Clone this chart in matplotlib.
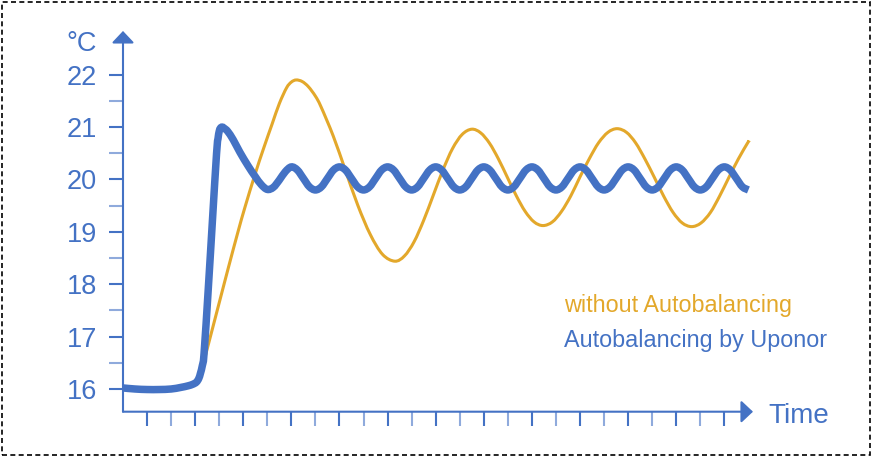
import numpy as np
import matplotlib
matplotlib.use("Agg")
import matplotlib.pyplot as plt
from matplotlib.patches import Rectangle, PathPatch
from matplotlib.path import Path

plt.rcParams["font.family"] = ["Liberation Sans", "DejaVu Sans"]

BLUE = "#4472c4"
LIGHT_BLUE = "#8faadc"
GOLD = "#e3a82b"

# axis ticks
y_major = [16, 17, 18, 19, 20, 21, 22]
y_minor = [16.5, 17.5, 18.5, 19.5, 20.5, 21.5]
x_major = [1, 3, 5, 7, 9, 11, 13, 15, 17, 19, 21, 23, 25]
x_minor = [2, 4, 6, 8, 10, 12, 14, 16, 18, 20, 22, 24]

# with Autobalancing by Uponor
blue_x = [0, 0.5, 1.0, 1.5, 2.0, 2.4, 2.7, 2.9, 3.05, 3.15, 3.22, 3.3, 3.37,
          3.55, 3.72, 3.89, 3.95, 4.0, 4.05, 4.12, 4.2, 4.35, 4.58, 4.86,
          5.2, 5.49, 5.75, 6.0, 6.25, 6.5, 6.75,
          7.0, 7.25, 7.5, 7.75, 8.0, 8.25, 8.5, 8.75,
          9.0, 9.25, 9.5, 9.75, 10.0, 10.25, 10.5, 10.75,
          11.0, 11.25, 11.5, 11.75, 12.0, 12.25, 12.5, 12.75,
          13.0, 13.25, 13.5, 13.75, 14.0, 14.25, 14.5, 14.75,
          15.0, 15.25, 15.5, 15.75, 16.0, 16.25, 16.5, 16.75,
          17.0, 17.25, 17.5, 17.75, 18.0, 18.25, 18.5, 18.75,
          19.0, 19.25, 19.5, 19.75, 20.0, 20.25, 20.5, 20.75,
          21.0, 21.25, 21.5, 21.75, 22.0, 22.25, 22.5, 22.75,
          23.0, 23.25, 23.5, 23.75, 24.0, 24.25, 24.5, 24.75,
          25.0, 25.25, 25.5, 25.75, 26.0]
blue_y = [16.02, 16.0, 15.99, 15.99, 16.0, 16.03, 16.06, 16.09, 16.13, 16.2, 16.3, 16.45, 16.68,
          17.95, 19.23, 20.5, 20.78, 20.92, 20.98, 21.0, 20.98, 20.92, 20.76, 20.52,
          20.26, 20.06, 19.9, 19.81, 19.85, 19.99, 20.15,
          20.24, 20.18, 20.02, 19.86, 19.80, 19.86, 20.02, 20.18,
          20.24, 20.18, 20.02, 19.86, 19.80, 19.86, 20.02, 20.18,
          20.24, 20.18, 20.02, 19.86, 19.80, 19.86, 20.02, 20.18,
          20.24, 20.18, 20.02, 19.86, 19.80, 19.86, 20.02, 20.18,
          20.24, 20.18, 20.02, 19.86, 19.80, 19.86, 20.02, 20.18,
          20.24, 20.18, 20.02, 19.86, 19.80, 19.86, 20.02, 20.18,
          20.24, 20.18, 20.02, 19.86, 19.80, 19.86, 20.02, 20.18,
          20.24, 20.18, 20.02, 19.86, 19.80, 19.86, 20.02, 20.18,
          20.24, 20.18, 20.02, 19.86, 19.80, 19.86, 20.02, 20.18,
          20.24, 20.18, 20.02, 19.86, 19.80]

# without Autobalancing
gold_x = [3.27, 3.65, 4.03, 4.4, 4.78, 5.07, 5.49, 5.85, 6.2, 6.5, 6.8, 7.0, 7.2,
          7.45, 7.71, 8.0, 8.23, 8.74, 9.25, 9.76, 10.28, 10.79, 11.3,
          11.7, 12.1, 12.5, 12.9, 13.3, 13.7, 14.1, 14.5,
          14.87, 15.24, 15.61, 15.98, 16.35, 16.72, 17.09, 17.46,
          17.85, 18.23, 18.62, 19.0, 19.39, 19.77, 20.16, 20.54,
          20.93, 21.31, 21.7, 22.09, 22.48, 22.87, 23.25, 23.64,
          24.03, 24.42, 24.8, 25.19, 25.58, 25.97, 26.02]
gold_y = [16.36, 17.03, 17.70, 18.35, 19.0, 19.47, 20.1, 20.6, 21.06, 21.45, 21.75, 21.86, 21.9,
          21.87, 21.77, 21.59, 21.39, 20.83, 20.17, 19.51, 18.95, 18.57, 18.44,
          18.54, 18.81, 19.22, 19.70, 20.18, 20.59, 20.86, 20.96,
          20.89, 20.69, 20.39, 20.04, 19.69, 19.39, 19.19, 19.12,
          19.19, 19.39, 19.69, 20.05, 20.40, 20.70, 20.90, 20.97,
          20.90, 20.70, 20.39, 20.04, 19.68, 19.37, 19.17, 19.10,
          19.17, 19.37, 19.68, 20.04, 20.39, 20.70, 20.73]

W, H = 872, 457


def fx(px):
    return px / W


def fy(py):
    return 1 - py / H


def smooth_path(xs, ys):
    """Bezier path through the points (Catmull-Rom tangents)."""
    p = np.column_stack([xs, ys]).astype(float)
    n = len(p)
    verts, codes = [p[0]], [Path.MOVETO]
    for i in range(n - 1):
        p0 = p[i - 1] if i > 0 else p[i]
        p3 = p[i + 2] if i + 2 < n else p[i + 1]
        verts += [p[i] + (p[i + 1] - p0) / 6, p[i + 1] - (p3 - p[i]) / 6, p[i + 1]]
        codes += [Path.CURVE4] * 3
    return Path(verts, codes)


fig = plt.figure(figsize=(W / 100, H / 100), dpi=100)
ax = fig.add_axes([fx(123), fy(411.7), fx(760) - fx(123), fy(25) - fy(411.7)])
for s in ax.spines.values():
    s.set_visible(False)

ax.add_patch(PathPatch(smooth_path(gold_x, gold_y), fill=False, edgecolor=GOLD,
                       lw=2.2, capstyle="butt", zorder=2))
ax.add_patch(PathPatch(smooth_path(blue_x, blue_y), fill=False, edgecolor=BLUE,
                       lw=5.4, capstyle="butt", zorder=3))

x_end = (760 - 123) / 24.054
y_bot = 16 - (411.7 - 389) / 52.38
ax.set_xlim(0, x_end)
ax.set_ylim(y_bot, 16 + (389 - 25) / 52.38)

# axis arrows
arrow = dict(arrowstyle="-|>,head_length=0.36,head_width=0.34", mutation_scale=20,
             color=BLUE, lw=1.5, shrinkA=0, shrinkB=0)
ax.annotate("", xy=(0, 22.835), xytext=(0, y_bot), arrowprops=arrow, annotation_clip=False)
ax.annotate("", xy=(26.19, y_bot), xytext=(0, y_bot), arrowprops=arrow, annotation_clip=False)

ax.set_yticks(y_major)
ax.set_yticks(y_minor, minor=True)
ax.set_xticks(x_major)
ax.set_xticks(x_minor, minor=True)
ax.tick_params(which="major", direction="out", length=10, width=1.5, color=BLUE)
ax.tick_params(which="minor", direction="out", length=10, width=1.5, color=LIGHT_BLUE)
ax.tick_params(axis="y", labelsize=19.5, labelcolor=BLUE, pad=8.6)
ax.tick_params(axis="x", labelbottom=False)

fig.text(fx(97), fy(50.7), "°C", color=BLUE, fontsize=19.5, ha="right", va="baseline")
fig.text(fx(768), fy(422.7), "Time", color=BLUE, fontsize=20, ha="left", va="baseline")
fig.text(fx(564), fy(311.7), "without Autobalancing", color=GOLD, fontsize=16.8,
         ha="left", va="baseline")
fig.text(fx(564), fy(346.7), "Autobalancing by Uponor", color=BLUE, fontsize=16.8,
         ha="left", va="baseline")

fig.patches.append(Rectangle((fx(2), fy(455)), fx(868), fy(2) - fy(455),
                             transform=fig.transFigure, fill=False, edgecolor="black",
                             lw=1.2, linestyle=(0, (3, 2))))

fig.savefig("out.png", dpi=100)
